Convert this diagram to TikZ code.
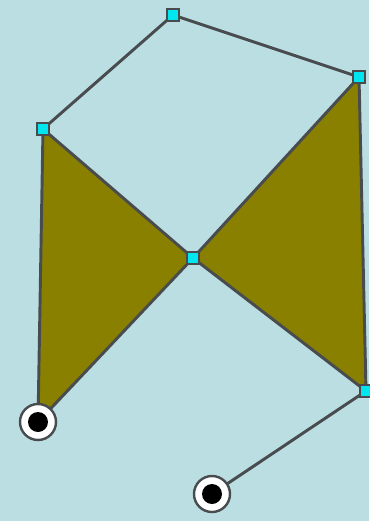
\documentclass[tikz,border=0pt]{standalone}
\usepackage{xcolor}
\usepackage{tikz}
\definecolor{sky}{RGB}{186, 222, 226}
\definecolor{olive}{RGB}{138, 128, 0}
\definecolor{edge}{RGB}{72, 76, 78}
\definecolor{handle}{RGB}{0, 230, 240}
\tikzset{
  handle/.style={draw=edge, fill=handle, rectangle, line width=1.6pt, minimum size=9pt, inner sep=0pt},
  term/.style={draw=edge, fill=white, circle, line width=1.8pt, minimum size=27pt, inner sep=0pt},
  wire/.style={draw=edge, line width=2.2pt}
}

\begin{document}
\begin{tikzpicture}[x=0.75pt, y=-0.75pt]
        % Background
        \fill[sky] (0,0) rectangle (369,521);
        \useasboundingbox (0,0) rectangle (369,521);
        % Corner points
        \coordinate (top) at (173,15);
        \coordinate (rtop) at (359,77);
        \coordinate (ltop) at (43,129);
        \coordinate (mid) at (193,258);
        \coordinate (rbot) at (366,391);
        \coordinate (lbot) at (38,422);
        \coordinate (bot) at (212,494);
        
        \filldraw[olive, draw=edge, line width=2.2pt, line join=round] (ltop) -- (mid) -- (lbot) -- cycle;
        \filldraw[olive, draw=edge, line width=2.2pt, line join=round] (rtop) -- (mid) -- (rbot) -- cycle;
        \draw[wire] (ltop) -- (top) -- (rtop);
        \draw[wire] (rbot) -- (bot);
        
        \node[handle] (h1) at (top) {};
        \node[handle] (h2) at (rtop) {};
        \node[handle] (h3) at (ltop) {};
        \node[handle] (h4) at (mid) {};
        \node[handle] (h5) at (rbot) {};
        \node[term] (t1) at (lbot) {};
        \node[term] (t2) at (bot) {};
        \fill[black] (t1) circle (7.5pt);
        \fill[black] (t2) circle (7.5pt);
    \end{tikzpicture}
\end{document}
